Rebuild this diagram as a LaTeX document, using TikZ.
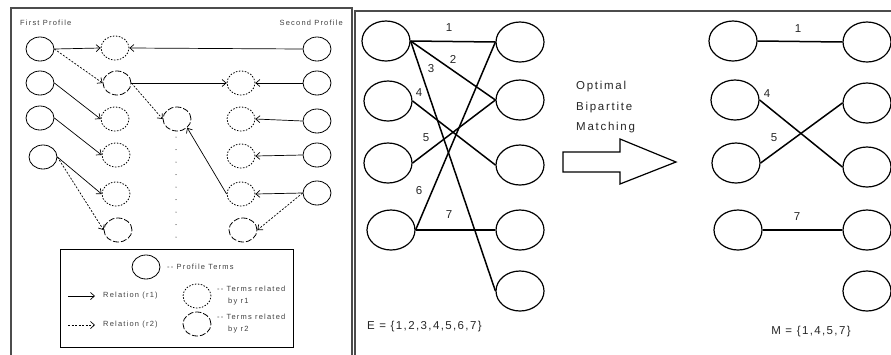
\documentclass[tikz,border=0pt]{standalone}
\usepackage{fontspec}
\setmainfont{Liberation Sans}
\usepackage{tikz}
\usetikzlibrary{shapes.geometric,arrows.meta}

\newcommand{\smallfnt}{\fontsize{7.5}{12}\selectfont\addfontfeatures{LetterSpace=16}}
\newcommand{\bigfnt}{\fontsize{11.5}{20.5}\selectfont\addfontfeatures{LetterSpace=15}}
\newcommand{\setfnt}{\fontsize{11.5}{12}\selectfont\addfontfeatures{LetterSpace=12}}

\begin{document}
\begin{tikzpicture}[x=1pt,y=-1pt,
    >={Straight Barb[length=4pt,width=7pt]},
    term/.style={draw,ellipse,line width=0.8pt,minimum width=28pt,minimum height=24pt,inner sep=0pt},
    relone/.style={term,dash pattern=on 1.5pt off 1.5pt},
    reltwo/.style={term,dash pattern=on 6pt off 2pt},
    rone/.style={->,line width=0.7pt},
    rtwo/.style={->,line width=0.7pt,dash pattern=on 2pt off 1.5pt},
    smalltxt/.style={font=\smallfnt,text=black!75,inner sep=0pt},
    vert/.style={draw,ellipse,line width=1.2pt,minimum width=48pt,minimum height=40pt,inner sep=0pt},
    match/.style={line width=1.5pt},
    lbl/.style={font=\setfnt,text=black!85,inner sep=0pt}]
    \useasboundingbox (0,0) rectangle (891,354);

    % draw panel borders
    \draw[line width=1.2pt,black!70] (11,360) -- (11,8) -- (352,8) -- (352,360);
    \draw[line width=1.2pt,black!70] (355,360) -- (355,11) -- (900,11);

    % draw profile headings
    \node[smalltxt,anchor=west] (first) at (20,23) {First Profile};
    \node[smalltxt,anchor=east] (second) at (343,23) {Second Profile};

    % draw profile terms
    \foreach \n/\x/\y in {1/40/49,2/40/83,3/40/118,4/43/157}
    \node[term] (p\n) at (\x,\y) {};
    \foreach \n/\y in {1/49,2/83,3/121,4/155,5/193}
    \node[term] (q\n) at (317,\y) {};

    % draw related terms
    \node[relone] (a1) at (115,48) {};
    \node[reltwo] (a2) at (117,83) {};
    \node[relone] (a3) at (115,119) {};
    \node[relone] (a4) at (116,155) {};
    \node[relone] (a5) at (116,194) {};
    \node[reltwo] (a6) at (118,230) {};
    \node[reltwo] (b1) at (177,119) {};
    \node[relone] (c2) at (241,83) {};
    \node[relone] (c3) at (241,119) {};
    \node[relone] (c4) at (241,156) {};
    \node[relone] (c5) at (241,194) {};
    \node[reltwo] (c6) at (243,230) {};

    % draw dots
    \foreach \y in {137,149.5,...,238}
    \fill (176,\y) circle (0.5pt);

    % draw relations
    \draw[rone] (p1.east) -- (a1.west);
    \draw[rone] (q1.west) -- (a1.east);
    \draw[rtwo] (p1.east) -- (a2.west);
    \draw[rone] (a2.east) -- (c2.west);
    \draw[rone] (q2.west) -- (c2.east);
    \draw[rtwo] (a2.east) -- (b1.west);
    \draw[rone] (p2.east) -- (a3.west);
    \draw[rone] (p3.east) -- (a4.west);
    \draw[rone] (p4.east) -- (a5.west);
    \draw[rtwo] (p4.east) -- (a6.west);
    \draw[rone] (q3.west) -- (c3.east);
    \draw[rone] (q4.west) -- (c4.east);
    \draw[rone] (q5.west) -- (c5.east);
    \draw[rtwo] (q5.west) -- (c6.east);
    \draw[rone] (c5.west) -- (b1.south east);

    % draw legend
    \node[draw,line width=1pt,minimum width=233pt,minimum height=98pt,inner sep=0pt] (legend) at (176.5,298) {};
    \node[term] (kterm) at (146,267) {};
    \node[smalltxt,anchor=west] (ktermtxt) at (167,267) {-{}- Profile Terms};
    \coordinate (ka) at (68,296);
    \coordinate (kb) at (95,296);
    \draw[rone] (ka) -- (kb);
    \node[smalltxt,anchor=west] (karel) at (103,296) {Relation (r1)};
    \coordinate (kc) at (68,325);
    \coordinate (kd) at (95,325);
    \draw[rtwo] (kc) -- (kd);
    \node[smalltxt,anchor=west] (kcrel) at (103,325) {Relation (r2)};
    \node[relone] (kone) at (197,296) {};
    \node[smalltxt,anchor=west,align=left] (konetxt) at (217,296) {-{}- Terms related\\\hspace*{11pt}by r1};
    \node[reltwo] (ktwo) at (197,324) {};
    \node[smalltxt,anchor=west,align=left] (ktwotxt) at (217,324) {-{}- Terms related\\\hspace*{11pt}by r2};

    % draw bipartite graph
    \foreach \n/\x/\y in {1/386/41,2/388/101,3/388/163,4/391/230}
    \node[vert] (u\n) at (\x,\y) {};
    \foreach \n/\y in {1/42,2/100,3/165,4/230,5/291}
    \node[vert] (v\n) at (520,\y) {};

    \draw[match] (u1.east) -- (v1.west);
    \draw[match] (u1.east) -- (v2.west);
    \draw[match] (u1.east) -- (v5.west);
    \draw[match] (u2.east) -- (v3.west);
    \draw[match] (u3.east) -- (v2.west);
    \draw[match] (u4.east) -- (v1.west);
    \draw[match] (u4.east) -- (v4.west);

    \node[lbl] (e1) at (449,28) {1};
    \node[lbl] (e2) at (453,59) {2};
    \node[lbl] (e3) at (431,69) {3};
    \node[lbl] (e4) at (419,93) {4};
    \node[lbl] (e5) at (426,138) {5};
    \node[lbl] (e6) at (419,191) {6};
    \node[lbl] (e7) at (449,215) {7};
    \node[lbl,anchor=west] (eset) at (367,327) {E = \{1,2,3,4,5,6,7\}};

    % draw block arrow
    \draw[line width=1.2pt] (563,152) -- (620,152) -- (620,139) -- (676,162)
      -- (620,184) -- (620,172) -- (563,172) -- cycle;
    \node[font=\bigfnt,text=black!85,align=left,anchor=north west,inner sep=0pt] (opt) at (576,81) {Optimal\\Bipartite\\Matching};

    % draw matching
    \foreach \n/\x/\y in {1/733/41,2/735/100,3/736/163,4/738/230}
    \node[vert] (s\n) at (\x,\y) {};
    \foreach \n/\y in {1/42,2/103,3/167,4/230,5/291}
    \node[vert] (t\n) at (867,\y) {};

    \draw[match] (s1.east) -- (t1.west);
    \draw[match] (s2.east) -- (t3.west);
    \draw[match] (s3.east) -- (t2.west);
    \draw[match] (s4.east) -- (t4.west);

    \node[lbl] (m1) at (798,29) {1};
    \node[lbl] (m4) at (767,94) {4};
    \node[lbl] (m5) at (774,138) {5};
    \node[lbl] (m7) at (797,217) {7};
    \node[lbl] (mset) at (811,332) {M = \{1,4,5,7\}};

\end{tikzpicture}
\end{document}
